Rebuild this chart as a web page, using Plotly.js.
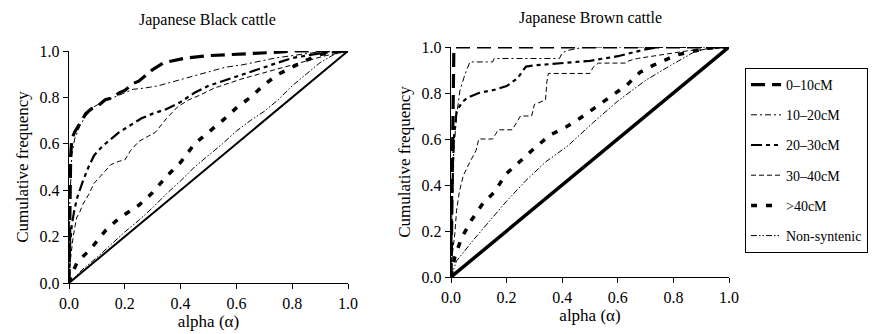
<!DOCTYPE html>
<html><head><meta charset="utf-8">
<script src="https://cdn.plot.ly/plotly-3.0.1.min.js"></script>
<style>html,body{margin:0;padding:0;background:#fff}#chart{width:877px;height:334px}</style>
</head><body><div id="chart"></div>
<script>
// ---- Japanese Black cattle (left panel) ----
const black_0_10_x = [0,0.003,0.006,0.01,0.02,0.04,0.06,0.08,0.1,0.13,0.16,0.18,0.2,0.23,0.25,0.28,0.3,0.34,0.38,0.42,0.5,0.6,0.7,0.75,0.8,0.9,1.0];
const black_0_10_y = [0,0.3,0.55,0.62,0.65,0.69,0.73,0.75,0.76,0.79,0.80,0.82,0.83,0.86,0.87,0.90,0.92,0.95,0.96,0.97,0.98,0.985,0.99,0.995,1.0,1.0,1.0];
const black_10_20_x = [0,0.003,0.01,0.02,0.04,0.06,0.09,0.12,0.16,0.2,0.23,0.27,0.32,0.38,0.44,0.5,0.56,0.62,0.68,0.74,0.8,0.86,0.92,1.0];
const black_10_20_y = [0,0.35,0.55,0.62,0.68,0.72,0.76,0.78,0.80,0.82,0.835,0.84,0.85,0.87,0.89,0.91,0.93,0.94,0.955,0.97,0.98,0.99,1.0,1.0];
const black_20_30_x = [0,0.003,0.01,0.02,0.03,0.05,0.07,0.09,0.12,0.15,0.18,0.22,0.26,0.3,0.35,0.4,0.45,0.5,0.55,0.6,0.65,0.7,0.75,0.8,0.85,0.9,1.0];
const black_20_30_y = [0,0.15,0.25,0.32,0.37,0.44,0.5,0.55,0.59,0.62,0.65,0.68,0.71,0.73,0.75,0.78,0.82,0.85,0.87,0.89,0.91,0.93,0.95,0.97,0.98,0.99,1.0];
const black_30_40_x = [0,0.005,0.015,0.027,0.04,0.05,0.07,0.09,0.12,0.15,0.18,0.2,0.22,0.25,0.28,0.31,0.35,0.39,0.43,0.47,0.52,0.57,0.62,0.68,0.74,0.8,0.86,0.92,1.0];
const black_30_40_y = [0,0.1,0.2,0.28,0.31,0.34,0.38,0.43,0.47,0.51,0.525,0.53,0.57,0.61,0.63,0.65,0.71,0.76,0.79,0.81,0.84,0.86,0.88,0.9,0.92,0.94,0.96,0.98,1.0];
const black_gt40_x = [0,0.01,0.03,0.08,0.13,0.18,0.25,0.3,0.35,0.4,0.45,0.5,0.55,0.6,0.65,0.7,0.75,0.8,0.85,0.9,0.95,1.0];
const black_gt40_y = [0,0.04,0.09,0.15,0.225,0.28,0.335,0.39,0.46,0.52,0.6,0.65,0.7,0.755,0.8,0.855,0.9,0.93,0.96,0.985,0.995,1.0];
const black_nonsyn_x = [0,0.05,0.1,0.15,0.2,0.25,0.3,0.35,0.4,0.45,0.5,0.55,0.6,0.65,0.7,0.75,0.8,0.85,0.9,0.95,1.0];
const black_nonsyn_y = [0,0.06,0.11,0.165,0.22,0.27,0.325,0.385,0.44,0.5,0.55,0.6,0.655,0.7,0.74,0.79,0.85,0.9,0.95,0.985,1.0];

// ---- Japanese Brown cattle (right panel) ----
const brown_0_10_x = [0,0.005,0.01,0.015,1.0];
const brown_0_10_y = [0,0.5,0.97,1.0,1.0];
const brown_10_20_x = [0,0.003,0.01,0.02,0.032,0.05,0.068,0.15,0.155,0.39,0.4,0.42,0.48,0.5,1.0];
const brown_10_20_y = [0,0.3,0.55,0.7,0.81,0.88,0.935,0.935,0.95,0.95,0.975,0.985,1.0,1.0,1.0];
const brown_20_30_x = [0,0.003,0.01,0.02,0.04,0.06,0.1,0.16,0.2,0.24,0.26,0.27,0.3,0.4,0.5,0.55,0.6,0.65,0.7,0.75,1.0];
const brown_20_30_y = [0,0.3,0.6,0.72,0.76,0.78,0.8,0.815,0.83,0.865,0.9,0.915,0.92,0.93,0.94,0.95,0.96,0.975,0.99,1.0,1.0];
const brown_30_40_x = [0,0.005,0.014,0.02,0.03,0.044,0.068,0.09,0.1,0.15,0.16,0.17,0.22,0.23,0.25,0.29,0.3,0.34,0.345,0.35,0.5,0.51,0.53,0.63,0.64,0.67,0.72,0.78,0.86,0.93,1.0];
const brown_30_40_y = [0,0.1,0.19,0.29,0.37,0.44,0.5,0.55,0.6,0.6,0.62,0.64,0.64,0.66,0.7,0.7,0.75,0.77,0.85,0.885,0.885,0.91,0.93,0.93,0.94,0.95,0.96,0.97,0.985,0.99,1.0];
const brown_gt40_x = [0,0.014,0.038,0.074,0.115,0.158,0.194,0.248,0.3,0.356,0.415,0.464,0.524,0.583,0.633,0.68,0.727,0.81,0.87,0.92,1.0];
const brown_gt40_y = [0,0.088,0.17,0.248,0.32,0.371,0.443,0.505,0.56,0.617,0.653,0.69,0.74,0.791,0.835,0.89,0.92,0.965,0.98,0.995,1.0];
const brown_nonsyn_x = [0,0.02,0.08,0.14,0.2,0.27,0.34,0.42,0.51,0.6,0.7,0.79,0.87,0.94,1.0];
const brown_nonsyn_y = [0,0.07,0.16,0.245,0.33,0.42,0.5,0.57,0.67,0.765,0.855,0.92,0.975,1.0,1.0];

const diag_x = [0,1];
const diag_y = [0,1];

const seriesNames = ['0–10cM','10–20cM','20–30cM','30–40cM','>40cM','Non-syntenic'];
const tickVals = [0,0.2,0.4,0.6,0.8,1.0];
const tickText = ['0.0','0.2','0.4','0.6','0.8','1.0'];

const styles = [
  {width:3.2, dash:'14px,7px'},
  {width:1, dash:'6px,3px,2px,3px'},
  {width:2.2, dash:'11px,4px,4px,4px,4px,4px'},
  {width:1, dash:'5px,3px'},
  {width:3.5, dash:'6px,9px'},
  {width:1, dash:'6px,2px,1.5px,2px,1.5px,2px'}
];

const black = [[black_0_10_x,black_0_10_y],[black_10_20_x,black_10_20_y],[black_20_30_x,black_20_30_y],[black_30_40_x,black_30_40_y],[black_gt40_x,black_gt40_y],[black_nonsyn_x,black_nonsyn_y]];
const brown = [[brown_0_10_x,brown_0_10_y],[brown_10_20_x,brown_10_20_y],[brown_20_30_x,brown_20_30_y],[brown_30_40_x,brown_30_40_y],[brown_gt40_x,brown_gt40_y],[brown_nonsyn_x,brown_nonsyn_y]];

const traces = [];
traces.push({x:diag_x,y:diag_y,mode:'lines',line:{color:'#000',width:2},showlegend:false,xaxis:'x',yaxis:'y',cliponaxis:false,hoverinfo:'skip'});
traces.push({x:diag_x,y:diag_y,mode:'lines',line:{color:'#000',width:3.5},showlegend:false,xaxis:'x2',yaxis:'y2',cliponaxis:false,hoverinfo:'skip'});
black.forEach((d,i)=>traces.push({x:d[0],y:d[1],mode:'lines',name:seriesNames[i],line:Object.assign({color:'#000'},styles[i]),showlegend:false,xaxis:'x',yaxis:'y',cliponaxis:false}));
brown.forEach((d,i)=>traces.push({x:d[0],y:d[1],mode:'lines',name:seriesNames[i],legendgroup:'g'+i,line:Object.assign({color:'#000'},styles[i]),showlegend:true,xaxis:'x2',yaxis:'y2',cliponaxis:false}));

const F = 'Liberation Serif';
function ax(domain, anchor){
  return {domain:domain, anchor:anchor, range:[0,1], showline:true, linecolor:'#000', linewidth:1.3,
    ticks:'outside', ticklen:5, tickwidth:1, tickcolor:'#000', tickvals:tickVals, ticktext:tickText,
    showgrid:false, zeroline:false, tickfont:{family:F,size:16,color:'#000'}, mirror:false};
}
const W=877,H=334;
const layout = {
  width:W, height:H, margin:{l:0,r:0,t:0,b:0}, paper_bgcolor:'#fff', plot_bgcolor:'#fff',
  font:{family:F,color:'#000',size:15},
  xaxis: Object.assign(ax([69/W,348/W],'y'),{title:{text:'alpha (α)',font:{family:F,size:17,color:'#000'},standoff:4}}),
  yaxis: Object.assign(ax([1-283/H,1-51/H],'x'),{title:{text:'Cumulative frequency',font:{family:F,size:17,color:'#000'},standoff:6}}),
  xaxis2: Object.assign(ax([451/W,729/W],'y2'),{title:{text:'alpha (α)',font:{family:F,size:17,color:'#000'},standoff:4}}),
  yaxis2: Object.assign(ax([1-277/H,1-47/H],'x2'),{title:{text:'Cumulative frequency',font:{family:F,size:17,color:'#000'},standoff:6}}),
  showlegend:true,
  legend:{x:745/W, y:1-68/H, xanchor:'left', yanchor:'top', bordercolor:'#000', borderwidth:1, bgcolor:'#fff',
    font:{family:F,size:14,color:'#000'}, traceorder:'grouped', tracegroupgap:9, itemwidth:30,
    entrywidth:84, entrywidthmode:'pixels'},
  annotations:[
    {text:'Japanese Black cattle', x:207/W, y:1-20/H, xref:'paper', yref:'paper', xanchor:'center', yanchor:'middle', showarrow:false, font:{family:F,size:16,color:'#000'}},
    {text:'Japanese Brown cattle', x:590/W, y:1-18/H, xref:'paper', yref:'paper', xanchor:'center', yanchor:'middle', showarrow:false, font:{family:F,size:16,color:'#000'}}
  ]
};
Plotly.newPlot('chart', traces, layout, {staticPlot:true});
</script></body></html>
